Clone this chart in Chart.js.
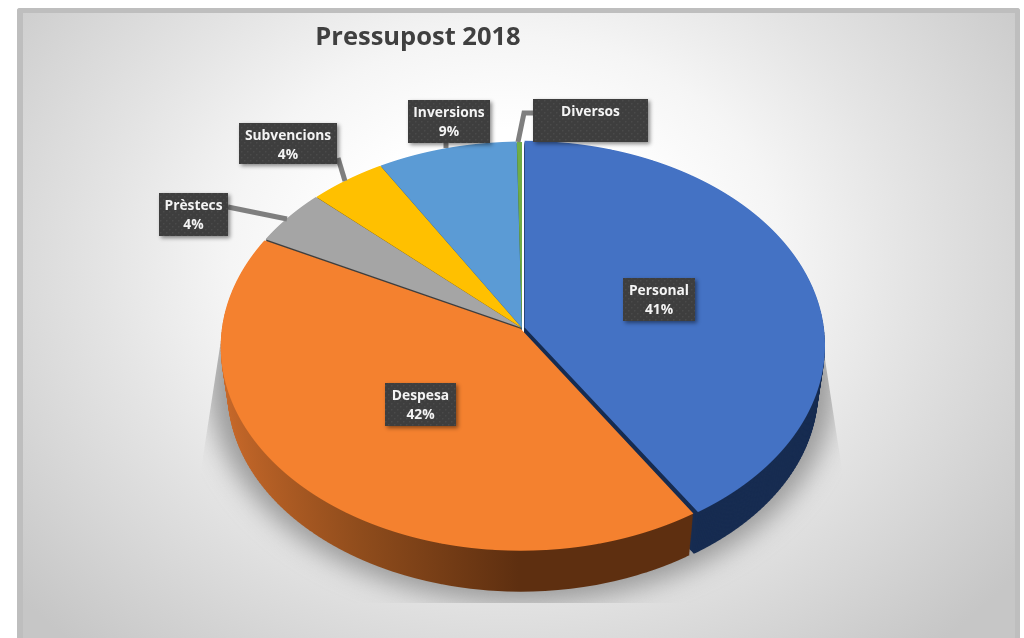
<!DOCTYPE html>
<html>
<head>
<meta charset="utf-8">
<title>Pressupost 2018</title>
<script src="https://cdn.jsdelivr.net/npm/chart.js@4"></script>
<style>
  html,body{margin:0;padding:0;background:#fff;overflow:hidden}
  #card{position:absolute;left:17px;top:8px;width:1003px;height:640px;box-sizing:border-box;border-radius:3px 3px 0 0;
    border-left:6px solid #bebebe;border-top:5px solid #bebebe;border-right:5px solid #bebebe;
    background:radial-gradient(ellipse 640px 520px at 483px 247px,#fff 0%,#fff 25%,#f5f5f5 43%,#e4e4e4 63%,#d8d8d8 78%,#c6c6c6 100%)}
  #c{position:absolute;left:0;top:0}
</style>
</head>
<body>
<div id="card"></div>
<canvas id="c" width="1024" height="638"></canvas>
<script>
const chartTitle = "Pressupost 2018";
const categories = ["Personal","Despesa","Prèstecs","Subvencions","Inversions","Diversos"];
const sliceValues = [41,41.5,4.5,4.5,8.2,0.3];
const percentLabels = ["41%","42%","4%","4%","9%",""];

const faceColors = ["#4472c4","#f4812f","#a5a5a5","#ffc000","#5b9bd5","#70ad47"];
const wallColors = ["#172c51",null,"#3f3f3f","#7a5c00","#2e5f8f","#43682b"];
const sliceOffsets = [11,7,3,2,2,0];

// callout boxes [x, y, w, h] and their leader lines
const boxes = [[623,278,72,43],[385,383,71,43],[159,193,69,43],[239,123,98,41],[408,100,82,43],[533,99,115,43]];
const leaders = [null,null,[[228,207],[287,219]],[[338,158],[345,181]],[[446,143],[446,148]],[[533,113],[524,113],[518,142]]];

// perspective of the tilted disc: v is -1 (far edge) .. 1 (near edge)
const CX = 522, CY = 328, R = 298;
const PERSP = -0.086, SPAN = 202, DEPTH = 46, WALL_SHRINK = 0.977;

function dotPattern(ctx){
  const p = document.createElement("canvas");
  p.width = p.height = 6;
  const g = p.getContext("2d");
  g.fillStyle = "#3e3e3e"; g.fillRect(0,0,6,6);
  g.fillStyle = "#4a4a4a";
  g.fillRect(1,1,1.5,1.5); g.fillRect(4,4,1.5,1.5);
  return ctx.createPattern(p,"repeat");
}

function drawDisc(ctx, arcs, drop, shrink, step){
  const top = Math.floor(CY-195+drop), bottom = Math.ceil(CY+228+drop);
  for(let y=top; y<bottom; y+=step){
    const ym = y+step/2;
    const d = (ym-CY-drop)/shrink;
    const v = Math.max(-1,Math.min(1,d/(SPAN-d*PERSP)));
    const w = 1+PERSP*v;
    const a = shrink/w, e = shrink*SPAN/(w*w)/R;
    ctx.save();
    ctx.beginPath(); ctx.rect(0,y,1024,step); ctx.clip();
    ctx.transform(a,0,0,e,CX-CX*a,CY+drop+shrink*SPAN*v/w-e*(CY+R*v));
    arcs.forEach(el=>el.draw(ctx));
    ctx.restore();
  }
}

const pie3d = {
  id:"pie3d",
  beforeDatasetsDraw(chart){
    const ctx = chart.ctx, arcs = chart.getDatasetMeta(0).data;

    // soft shadow behind the disc
    ctx.save();
    ctx.beginPath();
    ctx.moveTo(221,340); ctx.lineTo(201,470); ctx.lineTo(201,603);
    ctx.lineTo(842,603); ctx.lineTo(842,470); ctx.lineTo(822,340);
    ctx.closePath(); ctx.clip();
    ctx.filter = "blur(13px)";
    ctx.fillStyle = "rgba(135,135,135,.8)";
    ctx.beginPath(); ctx.ellipse(CX,381,314,222,0,0,Math.PI*2); ctx.fill();
    ctx.restore();

    // side wall, stacked from the bottom up
    const orange = ctx.createLinearGradient(225,0,520,0);
    orange.addColorStop(0,"#c8692a");
    orange.addColorStop(.5,"#8f4c1c");
    orange.addColorStop(1,"#5e2f10");
    const saved = arcs.map(el=>el.options);
    arcs.forEach((el,i)=>{
      el.options = Object.assign(Object.create(saved[i]),{backgroundColor:wallColors[i]||orange});
    });
    for(let k=DEPTH;k>=1;k--){
      drawDisc(ctx,arcs,k,1-(1-WALL_SHRINK)*k/DEPTH,3);
    }
    arcs.forEach((el,i)=>{ el.options = saved[i]; });

    // top face
    drawDisc(ctx,arcs,0,1,1);
    return false;
  },
  afterDraw(chart){
    const ctx = chart.ctx, dots = dotPattern(ctx);
    ctx.save();
    ctx.fillStyle = "#404040";
    ctx.font = "bold 25.5px 'Open Sans'";
    ctx.textAlign = "center";
    ctx.textBaseline = "middle";
    ctx.fillText(chartTitle,418,38);

    ctx.strokeStyle = "#7f7f7f";
    ctx.lineWidth = 5;
    leaders.forEach(pts=>{
      if(!pts) return;
      ctx.beginPath();
      pts.forEach((p,i)=> i ? ctx.lineTo(p[0],p[1]) : ctx.moveTo(p[0],p[1]));
      ctx.stroke();
    });

    ctx.font = "bold 13.8px 'Open Sans'";
    boxes.forEach((b,i)=>{
      ctx.save();
      ctx.shadowColor = "rgba(0,0,0,.45)";
      ctx.shadowBlur = 4; ctx.shadowOffsetX = 2; ctx.shadowOffsetY = 2;
      ctx.fillStyle = "#3e3e3e";
      ctx.fillRect(b[0],b[1],b[2],b[3]);
      ctx.restore();
      ctx.fillStyle = dots;
      ctx.fillRect(b[0],b[1],b[2],b[3]);
      ctx.fillStyle = "#f4f4f4";
      ctx.fillText(categories[i],b[0]+b[2]/2,b[1]+13.5);
      if(percentLabels[i]) ctx.fillText(percentLabels[i],b[0]+b[2]/2,b[1]+32);
    });
    ctx.restore();
  }
};

new Chart(document.getElementById("c"),{
  type:"pie",
  data:{
    labels:categories,
    datasets:[{
      data:sliceValues,
      backgroundColor:faceColors,
      borderWidth:0,
      offset:sliceOffsets,
      radius:R
    }]
  },
  options:{
    responsive:false,
    animation:false,
    layout:{padding:{left:20,top:18}},
    plugins:{legend:{display:false},tooltip:{enabled:false},title:{display:false}}
  },
  plugins:[pie3d]
});
</script>
</body>
</html>
